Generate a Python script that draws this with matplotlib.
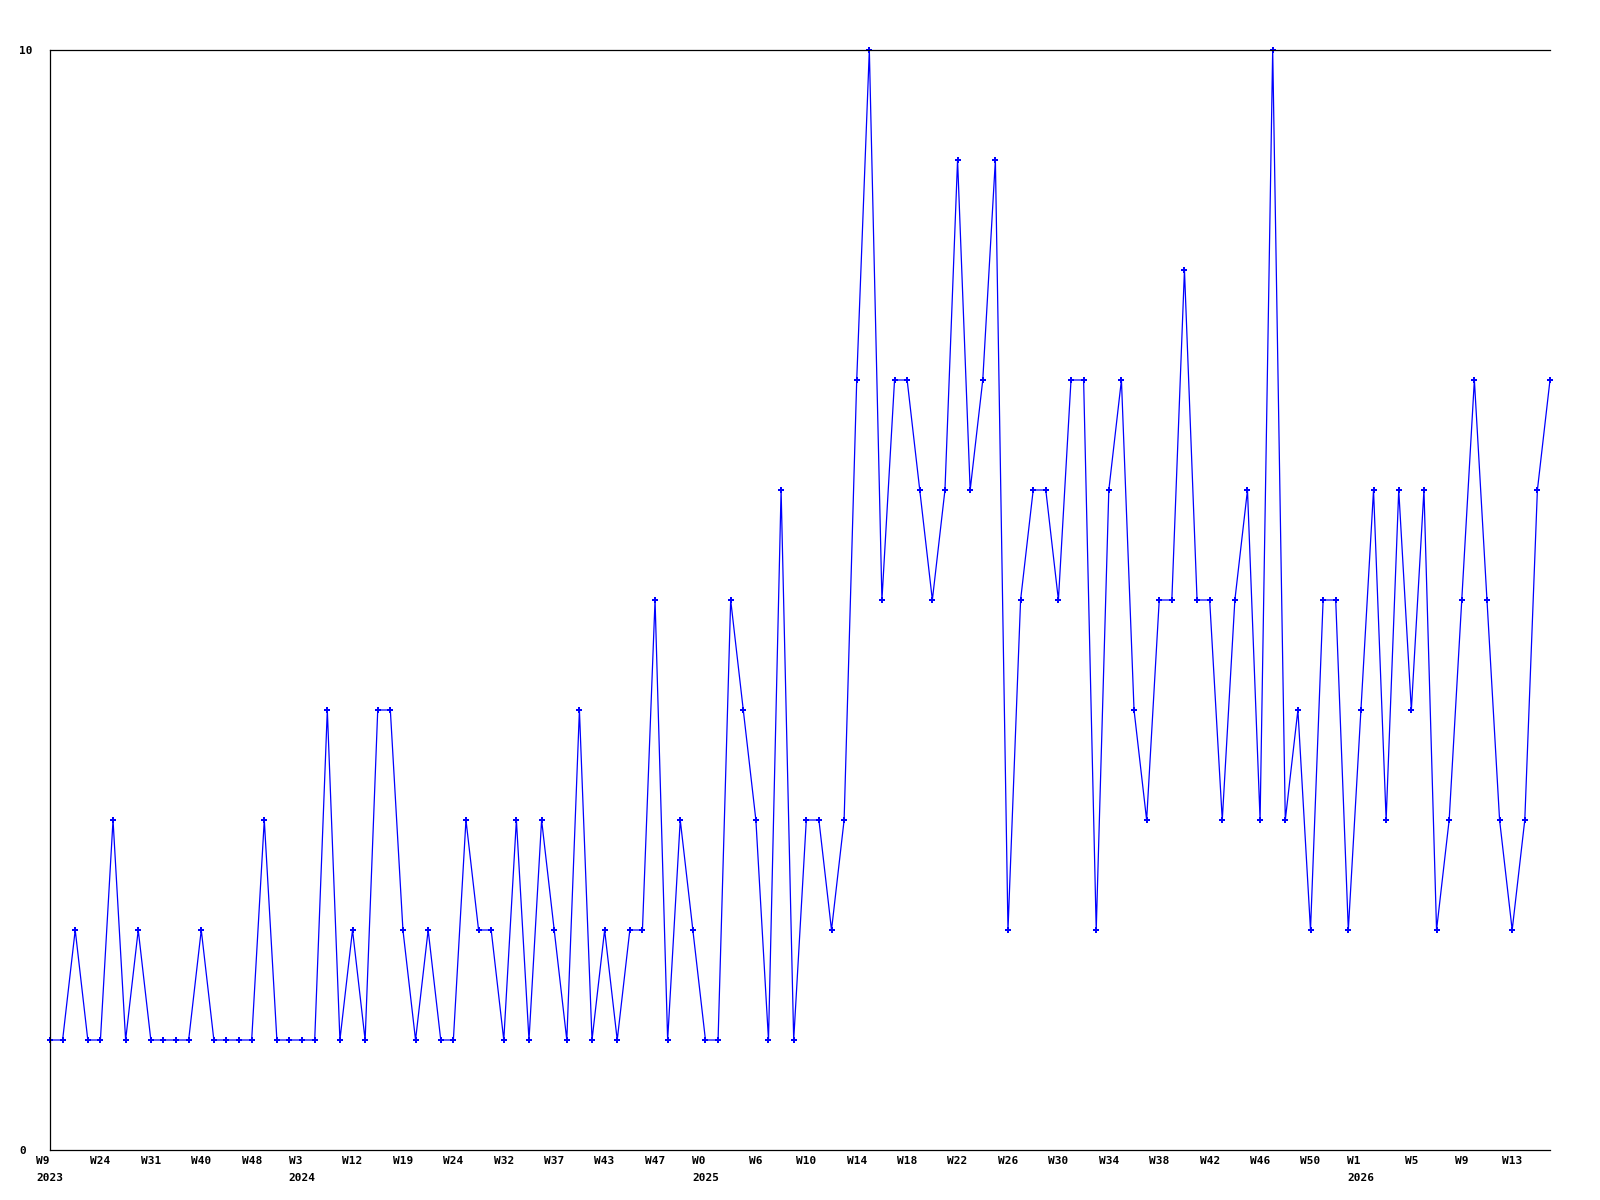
import matplotlib
matplotlib.use('Agg')
import matplotlib.pyplot as plt
import numpy as np

# weekly counts
values = [1, 1, 2, 1, 1, 3, 1, 2, 1, 1,
          1, 1, 2, 1, 1, 1, 1, 3, 1, 1,
          1, 1, 4, 1, 2, 1, 4, 4, 2, 1,
          2, 1, 1, 3, 2, 2, 1, 3, 1, 3,
          2, 1, 4, 1, 2, 1, 2, 2, 5, 1,
          3, 2, 1, 1, 5, 4, 3, 1, 6, 1,
          3, 3, 2, 3, 7, 10, 5, 7, 7, 6,
          5, 6, 9, 6, 7, 9, 2, 5, 6, 6,
          5, 7, 7, 2, 6, 7, 4, 3, 5, 5,
          8, 5, 5, 3, 5, 6, 3, 10, 3, 4,
          2, 5, 5, 2, 4, 6, 3, 6, 4, 6,
          2, 3, 5, 7, 5, 3, 2, 3, 6, 7]

# x tick labels (every 4th point) and the year under some of them
week_labels = ['W9', 'W24', 'W31', 'W40', 'W48', 'W3', 'W12', 'W19', 'W24', 'W32',
               'W37', 'W43', 'W47', 'W0', 'W6', 'W10', 'W14', 'W18', 'W22', 'W26',
               'W30', 'W34', 'W38', 'W42', 'W46', 'W50', 'W1', 'W5', 'W9', 'W13']
year_at = {0: '2023', 5: '2024', 13: '2025', 26: '2026'}

x = np.arange(len(values))
tick_pos = x[::4][:len(week_labels)]
tick_text = []
for i, w in enumerate(week_labels):
    if i in year_at:
        tick_text.append(w + '\n' + year_at[i])
    else:
        tick_text.append(w)

fig = plt.figure(figsize=(16, 12), dpi=100)
ax = fig.add_axes([50 / 1600, 50 / 1200, 1500 / 1600, 1100 / 1200])

ax.plot(x, values, color='#0000ff', linewidth=0.9, marker='P', markersize=4,
        markeredgewidth=0, clip_on=False)

ax.set_xlim(0, len(values) - 1)
ax.set_ylim(0, 10)

ax.spines['right'].set_visible(False)
for s in ['left', 'top', 'bottom']:
    ax.spines[s].set_linewidth(0.9)

ax.set_yticks([0, 10])
ax.set_yticklabels(['0', '10'], family='DejaVu Sans Mono', fontweight='bold', fontsize=8)
ax.set_xticks(tick_pos)
ax.set_xticklabels(tick_text, family='DejaVu Sans Mono', fontweight='bold', fontsize=8,
                   multialignment='left', linespacing=1.9)
ax.tick_params(axis='both', length=0)
ax.tick_params(axis='y', pad=22)
ax.tick_params(axis='x', pad=4)
for lab in ax.get_yticklabels():
    lab.set_horizontalalignment('left')

fig.savefig('out.png', dpi=100)
